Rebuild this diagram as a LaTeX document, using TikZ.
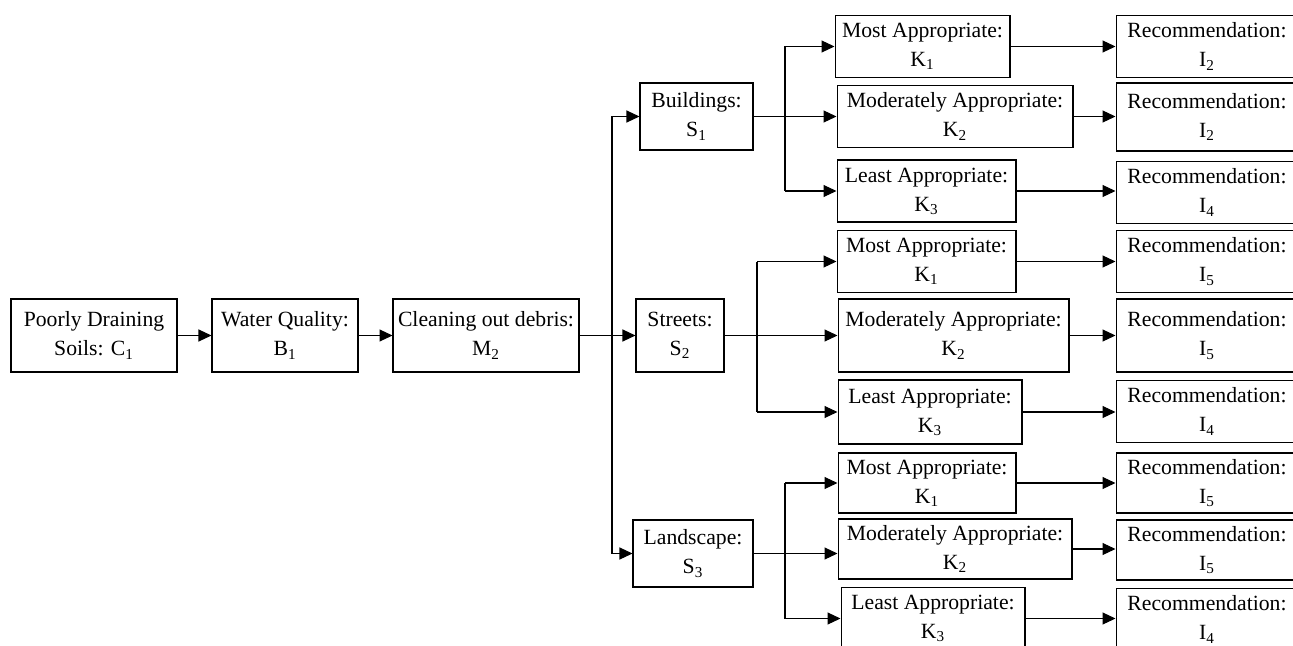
\documentclass[tikz,border=0pt]{standalone}
\usepackage{fontspec}
\setmainfont{Liberation Serif}
\usetikzlibrary{arrows.meta}
\newcommand{\idx}[1]{\textsubscript{#1}}

\begin{document}
\begin{tikzpicture}[x=0.02cm, y=-0.02cm, >={Triangle[length=0.26cm, width=0.24cm]}, line width=0.6pt,
    box/.style={draw, align=center, inner sep=0pt, minimum height=1.24cm, font=\fontsize{12.35}{16.5}\selectfont},
    tall/.style={minimum height=1.46cm},
    rec/.style={box, minimum width=3.64cm}]
                \useasboundingbox (0,0) rectangle (1293,645);
                \clip (0,0) rectangle (1293,645);
                
                \node[box, tall, minimum width=3.32cm] (C1) at (94,335.5) {Poorly Draining\\Soils: C\idx{1}};
                \node[box, tall, minimum width=2.92cm] (B1) at (285,335.5) {Water Quality:\\B\idx{1}};
                \node[box, tall, minimum width=3.72cm] (M2) at (486,335.5) {Cleaning out debris:\\M\idx{2}};
                
                \node[box, minimum height=1.34cm, minimum width=2.26cm] (S1) at (696.5,116.5) {Buildings:\\S\idx{1}};
                \node[box, tall, minimum width=1.76cm] (S2) at (680,335.5) {Streets:\\S\idx{2}};
                \node[box, minimum height=1.34cm, minimum width=2.40cm] (S3) at (693,553.5) {Landscape:\\S\idx{3}};
                
                \node[box, minimum width=3.50cm] (K1a) at (922.5,46.5) {Most Appropriate:\\K\idx{1}};
                \node[box, minimum width=4.72cm] (K2a) at (955,116.5) {Moderately Appropriate:\\K\idx{2}};
                \node[box, minimum width=3.58cm] (K3a) at (926.5,191) {Least Appropriate:\\K\idx{3}};
                \node[rec] (R1a) at (1207,46.5) {Recommendation:\\I\idx{2}};
                \node[rec, minimum height=1.36cm] (R2a) at (1207,117) {Recommendation:\\I\idx{2}};
                \node[rec] (R3a) at (1207,192.5) {Recommendation:\\I\idx{4}};
                
                \node[box, minimum width=3.58cm] (K1b) at (926.5,261.5) {Most Appropriate:\\K\idx{1}};
                \node[box, tall, minimum width=4.62cm] (K2b) at (953.5,335.5) {Moderately Appropriate:\\K\idx{2}};
                \node[box, minimum height=1.28cm, minimum width=3.68cm] (K3b) at (930,412) {Least Appropriate:\\K\idx{3}};
                \node[rec] (R1b) at (1207,261.5) {Recommendation:\\I\idx{5}};
                \node[rec, tall] (R2b) at (1207,335.5) {Recommendation:\\I\idx{5}};
                \node[rec] (R3b) at (1207,411.5) {Recommendation:\\I\idx{4}};
                
                \node[box, minimum height=1.2cm, minimum width=3.56cm] (K1c) at (927,483) {Most Appropriate:\\K\idx{1}};
                \node[box, minimum height=1.2cm, minimum width=4.68cm] (K2c) at (955,549) {Moderately Appropriate:\\K\idx{2}};
                \node[box, minimum width=3.68cm] (K3c) at (933,618.5) {Least Appropriate:\\K\idx{3}};
                \node[rec, minimum height=1.2cm] (R1c) at (1207,483) {Recommendation:\\I\idx{5}};
                \node[rec, minimum height=1.2cm] (R2c) at (1207,550) {Recommendation:\\I\idx{5}};
                \node[rec] (R3c) at (1207,619.5) {Recommendation:\\I\idx{4}};
                
                \coordinate (T) at (612,335.5);
                \coordinate (Pa) at (785,116.5);
                \coordinate (Pb) at (757,335.5);
                \coordinate (Pc) at (785,553.5);
                
                \draw[->] (C1) -- (B1);
                \draw[->] (B1) -- (M2);
                \draw (M2) -- (T);
                \draw (T |- S1) -- (T |- S3);
                \draw[->] (T |- S1) -- (S1);
                \draw[->] (T) -- (S2);
                \draw[->] (T |- S3) -- (S3);
                
                \draw (S1) -- (Pa);
                \draw (Pa |- K1a) -- (Pa |- K3a);
                \draw[->] (Pa |- K1a) -- (K1a);
                \draw[->] (Pa) -- (K2a);
                \draw[->] (Pa |- K3a) -- (K3a);
                
                \draw (S2) -- (Pb);
                \draw (Pb |- K1b) -- (Pb |- K3b);
                \draw[->] (Pb |- K1b) -- (K1b);
                \draw[->] (Pb) -- (K2b);
                \draw[->] (Pb |- K3b) -- (K3b);
                
                \draw (S3) -- (Pc);
                \draw (Pc |- K1c) -- (Pc |- K3c);
                \draw[->] (Pc |- K1c) -- (K1c);
                \draw[->] (Pc) -- (Pc -| K2c.west);
                \draw[->] (Pc |- K3c) -- (K3c);
                
                \draw[->] (K1a) -- (K1a -| R1a.west);
                \draw[->] (K2a) -- (K2a -| R2a.west);
                \draw[->] (K3a) -- (K3a -| R3a.west);
                \draw[->] (K1b) -- (K1b -| R1b.west);
                \draw[->] (K2b) -- (K2b -| R2b.west);
                \draw[->] (K3b) -- (K3b -| R3b.west);
                \draw[->] (K1c) -- (K1c -| R1c.west);
                \draw[->] (K2c) -- (K2c -| R2c.west);
                \draw[->] (K3c) -- (K3c -| R3c.west);
            \end{tikzpicture}
\end{document}
